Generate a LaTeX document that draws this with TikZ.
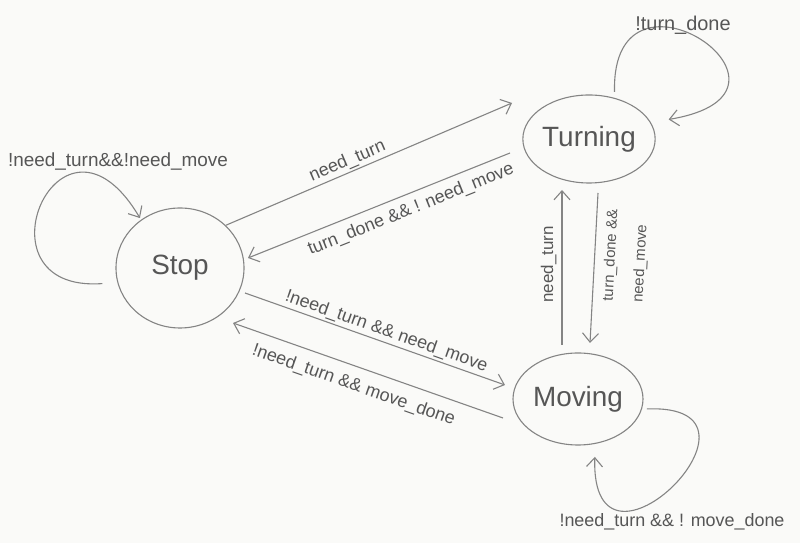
\documentclass[tikz,border=0pt]{standalone}
\usepackage{fontspec}
\setmainfont{Liberation Sans}
\usetikzlibrary{shapes.geometric,arrows.meta,calc}
\definecolor{pencil}{HTML}{848484}
\definecolor{ink}{HTML}{565656}
\definecolor{paper}{HTML}{FAFAF8}
\begin{document}
\begin{tikzpicture}[x=1bp,y=1bp,
  >={Straight Barb[length=9bp,width=16bp]},
  state/.style={draw=pencil, line width=1.1bp, ellipse, inner sep=0pt, text=ink,
    font=\fontsize{28}{30}\selectfont},
  conn/.style={draw=pencil, line width=1.1bp},
  lbl/.style={text=ink, font=\fontsize{18}{20}\selectfont, inner sep=2bp},
  vlbl/.style={text=ink, font=\fontsize{15}{30}\selectfont, inner sep=2bp}]
\fill[paper] (0,0) rectangle (800,543);
\useasboundingbox (0,0) rectangle (800,543);
% states
\node[state, minimum width=128bp, minimum height=120bp] (stop) at (180,275) {Stop};
\node[state, minimum width=132bp, minimum height=88bp] (turning) at (589,404) {Turning};
\node[state, minimum width=130bp, minimum height=92bp] (moving) at (578,144) {Moving};
% free ends of connectors
\coordinate (t1) at ($(turning)+(-77,36)$);
\coordinate (t2) at ($(turning)+(-79,-14)$);
\coordinate (s2) at ($(stop)+(68,10)$);
\coordinate (s3) at ($(stop)+(65,-25)$);
\coordinate (m1) at ($(moving)+(-73,14)$);
\coordinate (s4) at ($(stop)+(53,-55)$);
\coordinate (m2) at ($(moving)+(-75,-19)$);
\coordinate (m3) at ($(moving)+(-16,54)$);
\coordinate (t3) at ($(turning)+(-27,-51)$);
\coordinate (m4) at ($(moving)+(12,56)$);
\coordinate (t4) at ($(turning)+(9,-54)$);
% connectors
\draw[conn,->] (stop.43) -- node[lbl, sloped, above, pos=0.44] (l1) {need\_turn} (t1);
\draw[conn,<-] (s2) -- node[lbl, sloped, below=5bp, pos=0.6] (l2) {turn\_done \&\& ! need\_move} (t2);
\draw[conn,->] (s3) -- node[lbl, sloped, above, pos=0.53] (l3) {!need\_turn \&\& need\_move} (m1);
\draw[conn,<-] (s4) -- node[lbl, sloped, below=8bp, pos=0.47] (l4) {!need\_turn \&\& move\_done} (m2);
\draw[conn,->] (m3) -- node[vlbl, font=\fontsize{17}{20}\selectfont, sloped, above=3bp, pos=0.52] (l5) {need\_turn} (t3);
\draw[conn,<-] (m4) -- node[vlbl, sloped, below=7bp, pos=0.59, align=left] (l6) {turn\_done \&\&\\need\_move} (t4);
% self loops
\draw[conn,->, shorten <=15bp, shorten >=2bp] (stop.193) .. controls +(-148,-11) and +(-81,137) .. (stop.129);
\draw[conn,->, shorten <=6bp, shorten >=18bp] (turning.58) .. controls +(-4,155) and +(180,30) .. (turning.15);
\draw[conn,->, shorten <=5bp, shorten >=13bp] (moving.351) .. controls +(149,6) and +(-5,-160) .. (moving.291);
% loop labels
\node[lbl, font=\fontsize{19}{21}\selectfont] (l7) at (118,381) {!need\_turn\&\&!need\_move};
\node[lbl, font=\fontsize{20}{22}\selectfont] (l8) at (683,518) {!turn\_done};
\node[lbl] (l9) at (672,21) {!need\_turn \&\& ! move\_done};
\end{tikzpicture}
\end{document}
